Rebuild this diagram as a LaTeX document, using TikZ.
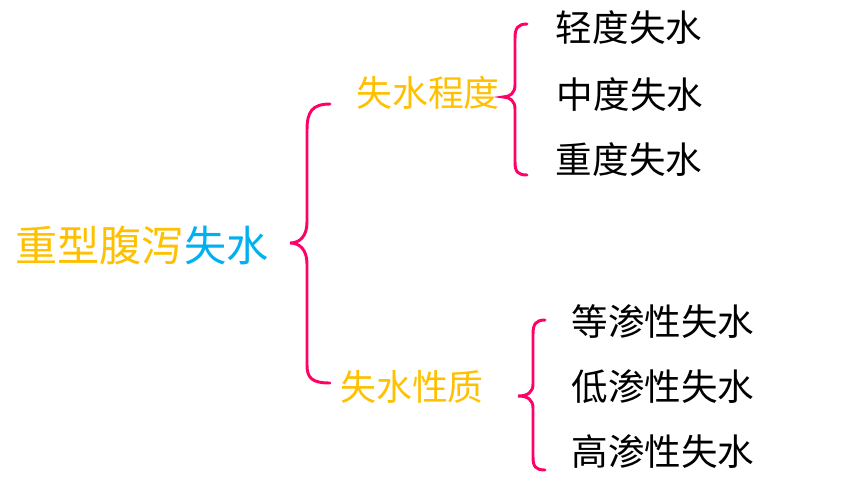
\documentclass[tikz,border=0pt]{standalone}
\usepackage{fontspec}
\setmainfont{Noto Sans CJK SC}
\usetikzlibrary{positioning}
\definecolor{titleOrange}{RGB}{255, 192, 0}
\definecolor{titleBlue}{RGB}{0, 176, 240}
\definecolor{bracePink}{RGB}{255, 0, 102}

\begin{document}
\begin{tikzpicture}[x=0.025cm, y=-0.025cm,
    brace/.style={draw=bracePink, line width=2.1pt, line cap=round},
    midtext/.style={text=titleOrange, font=\fontsize{25.5}{25.5}\selectfont, inner sep=0},
    leaftext/.style={text=black, font=\fontsize{26}{26}\selectfont, inner sep=0}]
      \useasboundingbox (0,0) rectangle (848,482);

      % Title
      \node[anchor=west, inner sep=0, font=\fontsize{30}{30}\selectfont] (title) at (15,245)
        {\textcolor{titleOrange}{重型腹泻}\textcolor{titleBlue}{失水}};

      % Big brace
      \draw[brace] (330,104) .. controls (312,104) and (307,112) .. (307,130) -- (307,222)
        .. controls (307,236) and (300,243) .. (290,243)
        .. controls (300,243) and (307,250) .. (307,264) -- (307,365)
        .. controls (307,378) and (312,383) .. (330,383);

      % Second level
      \node[midtext] (degree) at (428,93) {失水程度};
      \node[midtext] (nature) at (412,387) {失水性质};

      % Brace for degree
      \draw[brace] (527,24) .. controls (518,24) and (515,28) .. (515,38) -- (515,85)
        .. controls (515,93) and (510,97) .. (503,97)
        .. controls (510,97) and (515,101) .. (515,109) -- (515,162)
        .. controls (515,172) and (518,175) .. (527,175);
      \node[leaftext] (mild) at (629,28) {轻度失水};
      \node[leaftext] (moderate) at (630,95) {中度失水};
      \node[leaftext] (severe) at (629,160) {重度失水};

      % Brace for nature
      \draw[brace] (545,320) .. controls (536,320) and (533,324) .. (533,334) -- (533,384)
        .. controls (533,392) and (528,396) .. (518,396)
        .. controls (528,396) and (533,400) .. (533,408) -- (533,457)
        .. controls (533,467) and (536,470) .. (545,470);
      \node[leaftext] (iso) at (663,322) {等渗性失水};
      \node[leaftext] (hypo) at (663,387) {低渗性失水};
      \node[leaftext] (hyper) at (663,452) {高渗性失水};
\end{tikzpicture}
\end{document}
